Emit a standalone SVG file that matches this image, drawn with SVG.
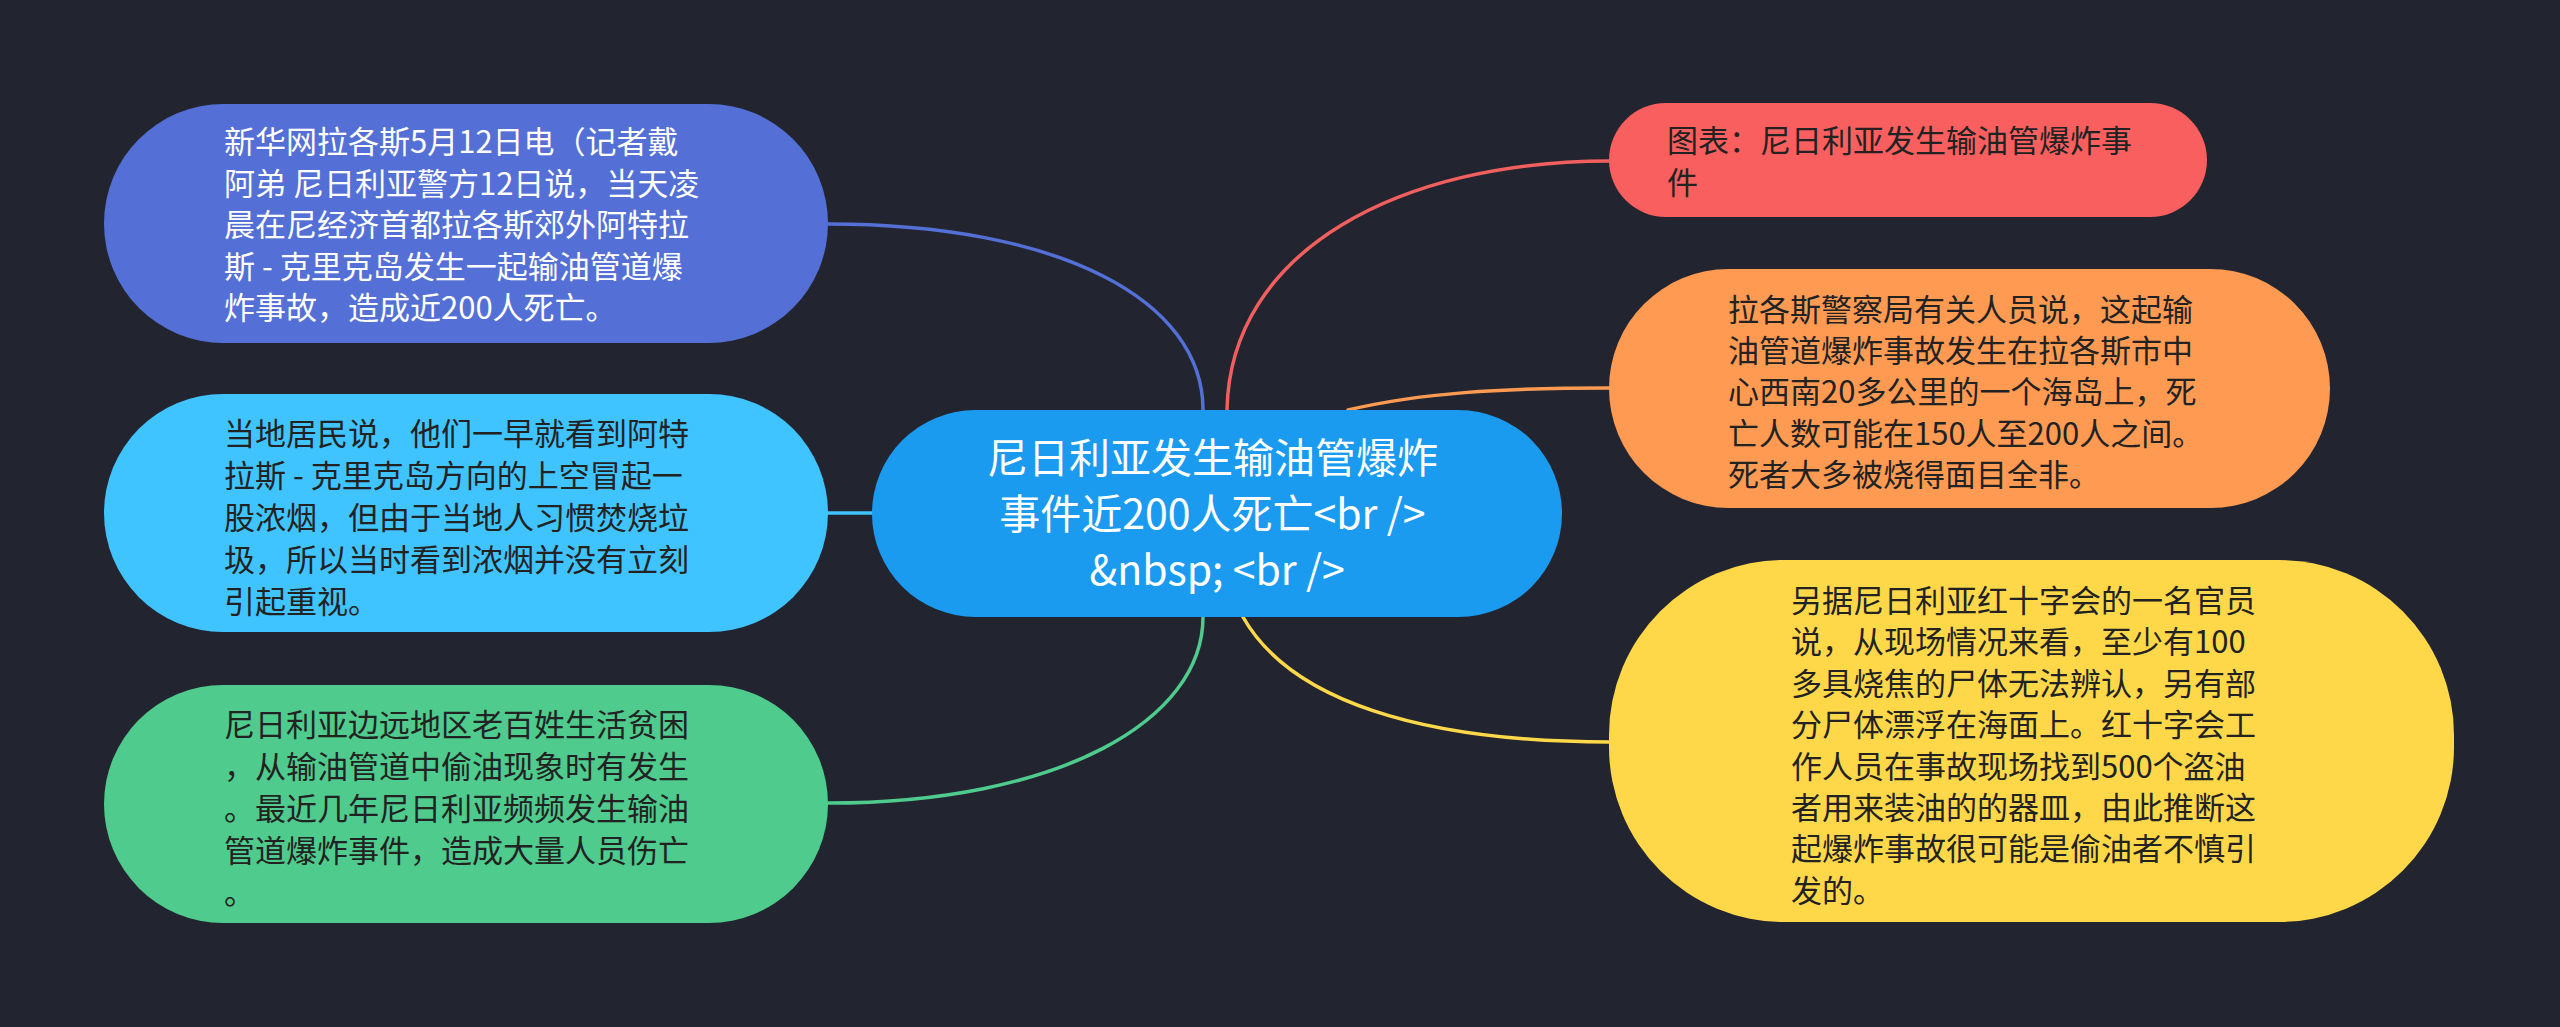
<svg xmlns="http://www.w3.org/2000/svg" width="2560" height="1027" viewBox="0 0 2560 1027">
<style>
  .t { font-family: "Noto Sans CJK SC", "Noto Sans", "Liberation Sans", sans-serif; font-size: 31px; }
  .w { fill: #ffffff; }
  .d { fill: #222222; }
  .c { font-family: "Noto Sans CJK SC", "Noto Sans", "Liberation Sans", sans-serif; font-size: 41px; fill: #ffffff; text-anchor: middle; }
  .ln { fill: none; stroke-width: 3.5; stroke-linecap: round; }
</style>
<rect x="0" y="0" width="2560" height="1027" fill="#22252F"/>
<g id="connectors">
  <path class="ln" stroke="#5470D6" d="M828 224 C1060 224 1203 300 1203 410"/>
  <path class="ln" stroke="#40C4FF" d="M828 513 L872 513"/>
  <path class="ln" stroke="#4ECB8D" d="M1203 617 C1203 720 1060 803 828 803"/>
  <path class="ln" stroke="#F25F5F" d="M1227 410 C1230 250 1400 161 1610 161"/>
  <path class="ln" stroke="#FF9A52" d="M1348 410 C1420 393 1500 388 1610 388"/>
  <path class="ln" stroke="#FFD84A" d="M1243 617 C1290 700 1420 742 1610 742"/>
</g>
<g id="node-left-1">
  <rect x="104" y="104" width="724" height="239" rx="119.5" fill="#5470D6"/>
  <text class="t w" x="224" y="153">
    <tspan x="224">新华网拉各斯5月12日电（记者戴</tspan>
    <tspan x="224" dy="41.6">阿弟 尼日利亚警方12日说，当天凌</tspan>
    <tspan x="224" dy="41.6">晨在尼经济首都拉各斯郊外阿特拉</tspan>
    <tspan x="224" dy="41.6">斯 - 克里克岛发生一起输油管道爆</tspan>
    <tspan x="224" dy="41.6">炸事故，造成近200人死亡。</tspan>
  </text>
</g>
<g id="node-left-2">
  <rect x="104" y="394" width="724" height="238" rx="119" fill="#40C4FF"/>
  <text class="t d" x="224" y="445">
    <tspan x="224">当地居民说，他们一早就看到阿特</tspan>
    <tspan x="224" dy="42">拉斯 - 克里克岛方向的上空冒起一</tspan>
    <tspan x="224" dy="42">股浓烟，但由于当地人习惯焚烧垃</tspan>
    <tspan x="224" dy="42">圾，所以当时看到浓烟并没有立刻</tspan>
    <tspan x="224" dy="42">引起重视。</tspan>
  </text>
</g>
<g id="node-left-3">
  <rect x="104" y="685" width="724" height="238" rx="119" fill="#4ECB8D"/>
  <text class="t d" x="224" y="736">
    <tspan x="224">尼日利亚边远地区老百姓生活贫困</tspan>
    <tspan x="224" dy="42">，从输油管道中偷油现象时有发生</tspan>
    <tspan x="224" dy="42">。最近几年尼日利亚频频发生输油</tspan>
    <tspan x="224" dy="42">管道爆炸事件，造成大量人员伤亡</tspan>
    <tspan x="224" dy="42">。</tspan>
  </text>
</g>
<g id="node-center">
  <rect x="872" y="410" width="690" height="207" rx="103.5" fill="#1A9BF0"/>
  <text class="c" x="1217" y="473">
    <tspan x="1217">尼日利亚发生输油管爆炸</tspan>
    <tspan x="1217" dy="56">事件近200人死亡&lt;br /&gt;</tspan>
    <tspan x="1217" dy="56">&amp;nbsp; &lt;br /&gt;</tspan>
  </text>
</g>
<g id="node-right-1">
  <rect x="1609" y="103" width="598" height="114" rx="57" fill="#F95F5F"/>
  <text class="t d" x="1667" y="152">
    <tspan x="1667">图表：尼日利亚发生输油管爆炸事</tspan>
    <tspan x="1667" dy="42">件</tspan>
  </text>
</g>
<g id="node-right-2">
  <rect x="1609" y="269" width="721" height="239" rx="119.5" fill="#FF9A52"/>
  <text class="t d" x="1728" y="321">
    <tspan x="1728">拉各斯警察局有关人员说，这起输</tspan>
    <tspan x="1728" dy="41.2">油管道爆炸事故发生在拉各斯市中</tspan>
    <tspan x="1728" dy="41.2">心西南20多公里的一个海岛上，死</tspan>
    <tspan x="1728" dy="41.2">亡人数可能在150人至200人之间。</tspan>
    <tspan x="1728" dy="41.2">死者大多被烧得面目全非。</tspan>
  </text>
</g>
<g id="node-right-3">
  <rect x="1609" y="560" width="845" height="362" rx="175" fill="#FFD84A"/>
  <text class="t d" x="1791" y="612">
    <tspan x="1791">另据尼日利亚红十字会的一名官员</tspan>
    <tspan x="1791" dy="41.4">说，从现场情况来看，至少有100</tspan>
    <tspan x="1791" dy="41.4">多具烧焦的尸体无法辨认，另有部</tspan>
    <tspan x="1791" dy="41.4">分尸体漂浮在海面上。红十字会工</tspan>
    <tspan x="1791" dy="41.4">作人员在事故现场找到500个盗油</tspan>
    <tspan x="1791" dy="41.4">者用来装油的的器皿，由此推断这</tspan>
    <tspan x="1791" dy="41.4">起爆炸事故很可能是偷油者不慎引</tspan>
    <tspan x="1791" dy="41.4">发的。</tspan>
  </text>
</g>
</svg>
